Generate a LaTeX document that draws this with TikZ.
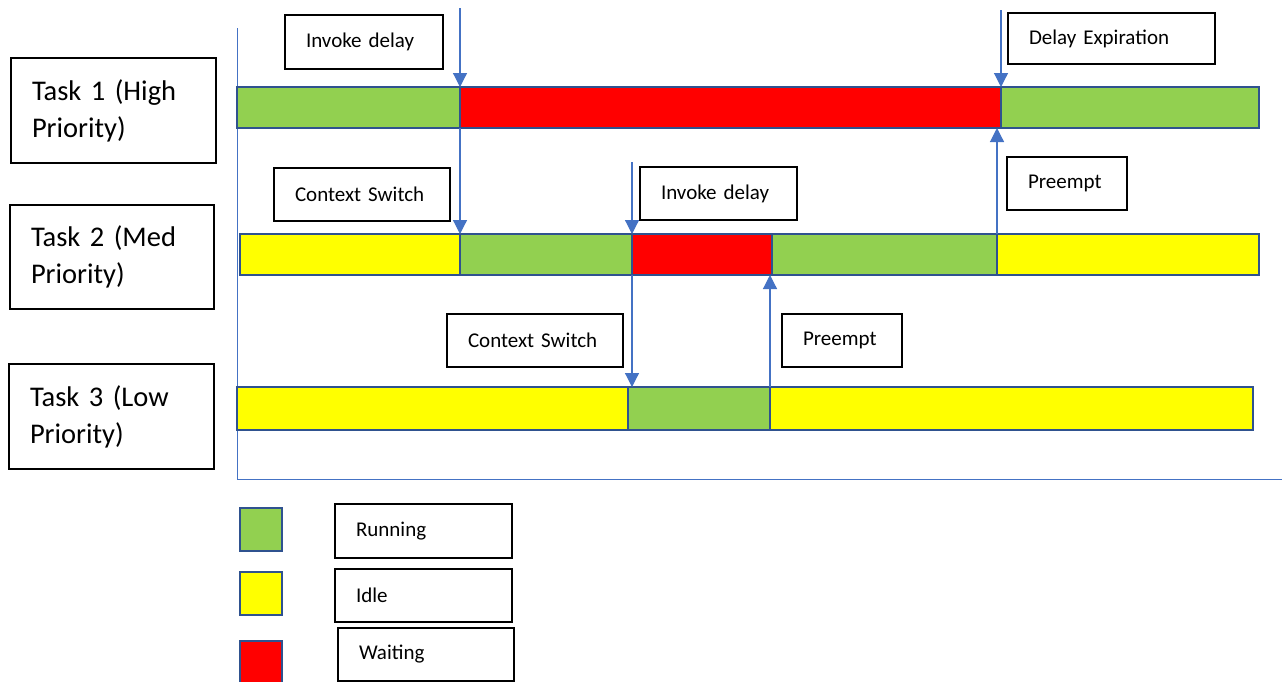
\documentclass[tikz,border=0pt]{standalone}
\usepackage{fontspec}
\setmainfont{Carlito}
\usetikzlibrary{arrows.meta}
\definecolor{runG}{HTML}{92D050}
\definecolor{idleY}{HTML}{FFFF00}
\definecolor{waitR}{HTML}{FF0000}
\definecolor{barB}{HTML}{2F528F}
\definecolor{arrB}{HTML}{4472C4}
\begin{document}
\begin{tikzpicture}[x=1pt,y=-1pt,
 seg/.style={draw=barB, line width=2pt, inner sep=0pt, outer sep=0pt, minimum height=41pt, anchor=north west},
 lbl/.style={draw=black, line width=1.5pt, fill=white, inner ysep=0pt, inner xsep=21pt, outer sep=0pt, align=left, anchor=north west, font=\fontsize{21}{25}\selectfont},
 task/.style={lbl, font=\fontsize{28.5}{37}\selectfont},
 arr/.style={draw=arrB, line width=1.2pt, -{Triangle[width=14pt,length=14pt]}},
 axis/.style={draw=arrB, line width=1pt},
 key/.style={draw=barB, line width=2pt, minimum width=42pt, minimum height=43pt, inner sep=0pt, outer sep=0pt, anchor=north west}]
\useasboundingbox (0,0) rectangle (1282,681);
\clip (0,0) rectangle (1282,681);
\fill[white] (0,0) rectangle (1282,681);

% axes
\coordinate (axtop) at (237,28);
\coordinate (axorg) at (237,479);
\coordinate (axend) at (1282,479);
\draw[axis] (axtop) -- (axorg) -- (axend);

% task labels
\node[task, text width=163pt, minimum height=105pt] (task1) at (11,58) {Task 1 (High\\Priority)};
\node[task, text width=162pt, minimum height=104pt] (task2) at (10,205) {Task 2 (Med\\Priority)};
\node[task, text width=163pt, minimum height=105pt] (task3) at (9,364) {Task 3 (Low\\Priority)};

% Task 1 bar
\node[seg, fill=runG, minimum width=223pt] (t1a) at (237,87) {};
\node[seg, fill=waitR, minimum width=541pt] (t1b) at (460,87) {};
\node[seg, fill=runG, minimum width=258pt] (t1c) at (1001,87) {};
% Task 2 bar
\node[seg, fill=idleY, minimum width=220pt] (t2a) at (240,234) {};
\node[seg, fill=runG, minimum width=172pt] (t2b) at (460,234) {};
\node[seg, fill=waitR, minimum width=140pt] (t2c) at (632,234) {};
\node[seg, fill=runG, minimum width=225pt] (t2d) at (772,234) {};
\node[seg, fill=idleY, minimum width=262pt] (t2e) at (997,234) {};
% Task 3 bar
\node[seg, fill=idleY, minimum width=391pt, minimum height=43pt] (t3a) at (237,387) {};
\node[seg, fill=runG, minimum width=142pt, minimum height=43pt] (t3b) at (628,387) {};
\node[seg, fill=idleY, minimum width=483pt, minimum height=43pt] (t3c) at (770,387) {};

% event labels
\node[lbl, text width=116pt, minimum height=54pt] (inv1) at (285,15) {Invoke delay};
\node[lbl, text width=165pt, minimum height=51pt] (dexp) at (1008,13) {Delay Expiration};
\node[lbl, text width=134pt, minimum height=53pt] (cs1) at (274,168) {Context Switch};
\node[lbl, text width=115pt, minimum height=53pt] (inv2) at (640,167) {Invoke delay};
\node[lbl, text width=78pt, minimum height=53pt] (pre1) at (1007,157) {Preempt};
\node[lbl, text width=134pt, minimum height=53pt] (cs2) at (447,314) {Context Switch};
\node[lbl, text width=78pt, minimum height=53pt] (pre2) at (782,314) {Preempt};

% arrows
\coordinate (a1top) at (460,8);
\draw[arr] (a1top) -- (t1b.north west);
\draw[arr] (t1b.south west) -- (t2b.north west);
\coordinate (a2top) at (632,162);
\draw[arr] (a2top) -- (t2c.north west);
\draw[arr] (t2c.south west) -- (t2c.south west |- t3b.north);
\draw[arr] (t3c.north west) -- (t3c.north west |- t2d.south);
\coordinate (a4top) at (1001,10);
\draw[arr] (a4top) -- (t1c.north west);
\draw[arr] (t2e.north west) -- (t2e.north west |- t1c.south);

% legend
\node[key, fill=runG] (kr) at (240,508) {};
\node[key, fill=idleY] (ki) at (240,572) {};
\node[key, fill=waitR] (kw) at (240,641) {};
\node[lbl, text width=135pt, minimum height=54pt] (lr) at (335,504) {Running};
\node[lbl, text width=135pt, minimum height=53pt] (li) at (335,569) {Idle};
\node[lbl, text width=134pt, minimum height=53pt] (lw) at (338,628) {Waiting};
\end{tikzpicture}
\end{document}
